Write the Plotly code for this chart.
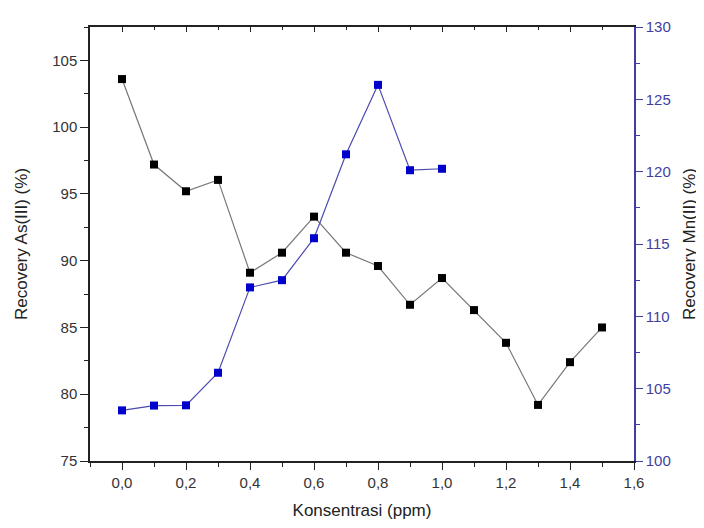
import plotly.graph_objects as go

konsentrasi_as = [0.0, 0.1, 0.2, 0.3, 0.4, 0.5, 0.6, 0.7, 0.8, 0.9, 1.0, 1.1, 1.2, 1.3, 1.4, 1.5]
recovery_as = [103.6, 97.2, 95.2, 96.05, 89.1, 90.6, 93.3, 90.6, 89.6, 86.7, 88.7, 86.3, 83.85, 79.2, 82.4, 85.0]

konsentrasi_mn = [0.0, 0.1, 0.2, 0.3, 0.4, 0.5, 0.6, 0.7, 0.8, 0.9, 1.0]
recovery_mn = [103.5, 103.83, 103.85, 106.1, 112.0, 112.5, 115.4, 121.2, 126.0, 120.1, 120.2]

FONT = "Liberation Sans, Arial, sans-serif"
BLUE_AX = "#3f3fa3"

fig = go.Figure()
fig.add_trace(go.Scatter(
    x=konsentrasi_as, y=recovery_as, mode="lines+markers",
    line=dict(color="#777777", width=1.2),
    marker=dict(symbol="square", size=8, color="#000000"),
    showlegend=False, yaxis="y", xaxis="x",
))
fig.add_trace(go.Scatter(
    x=konsentrasi_mn, y=recovery_mn, mode="lines+markers",
    line=dict(color="#4a4ab0", width=1.2),
    marker=dict(symbol="square", size=8, color="#0000cc"),
    showlegend=False, yaxis="y2", xaxis="x",
))
# helper trace so the top (box) axis is drawn
fig.add_trace(go.Scatter(x=[], y=[], xaxis="x2", yaxis="y", showlegend=False, hoverinfo="skip"))

fig.update_layout(
    width=704, height=528,
    margin=dict(l=82, r=78, t=10, b=75),
    paper_bgcolor="white", plot_bgcolor="white",
    separators=",.",
    font=dict(family=FONT, size=15, color="#333333"),
    xaxis=dict(
        range=[-0.1, 1.6], tick0=0, dtick=0.2, tickformat=".1f",
        showline=True, linecolor="#222222", linewidth=1.5,
        ticks="outside", ticklen=7, tickwidth=1.3, tickcolor="#222222",
        minor=dict(dtick=0.1, tick0=0, ticks="outside", ticklen=4, tickcolor="#222222", showgrid=False),
        showgrid=False, zeroline=False,
        title=dict(text="Konsentrasi (ppm)", font=dict(size=17, color="#222222"), standoff=14),
        tickfont=dict(size=15, color="#333333"),
    ),
    xaxis2=dict(
        range=[-0.1, 1.6], tick0=0, dtick=0.2, overlaying="x", side="top", anchor="y",
        showline=True, linecolor="#222222", linewidth=1.5,
        ticks="inside", ticklen=5, tickwidth=1.3, tickcolor="#222222",
        minor=dict(dtick=0.1, tick0=0, ticks="inside", ticklen=3, tickcolor="#222222", showgrid=False),
        showticklabels=False, showgrid=False, zeroline=False,
    ),
    yaxis=dict(
        range=[75, 107.5], tick0=75, dtick=5,
        showline=True, linecolor="#222222", linewidth=1.5,
        ticks="outside", ticklen=8, tickwidth=1.3, tickcolor="#222222",
        minor=dict(dtick=2.5, tick0=75, ticks="outside", ticklen=4, tickcolor="#222222", showgrid=False),
        showgrid=False, zeroline=False,
        title=dict(text="Recovery As(III) (%)", font=dict(size=17, color="#222222"), standoff=20),
        tickfont=dict(size=15, color="#333333"),
    ),
    yaxis2=dict(
        range=[100, 130], tick0=100, dtick=5, overlaying="y", side="right", anchor="x",
        showline=True, linecolor=BLUE_AX, linewidth=1.5,
        ticks="outside", ticklen=7, tickwidth=1.3, tickcolor=BLUE_AX,
        minor=dict(dtick=2.5, tick0=100, ticks="outside", ticklen=4, tickcolor=BLUE_AX, showgrid=False),
        showgrid=False, zeroline=False,
        title=dict(text="Recovery Mn(II) (%)", font=dict(size=17, color="#222222"), standoff=13),
        tickfont=dict(size=15, color=BLUE_AX),
    ),
)

fig.write_html("out.html")
